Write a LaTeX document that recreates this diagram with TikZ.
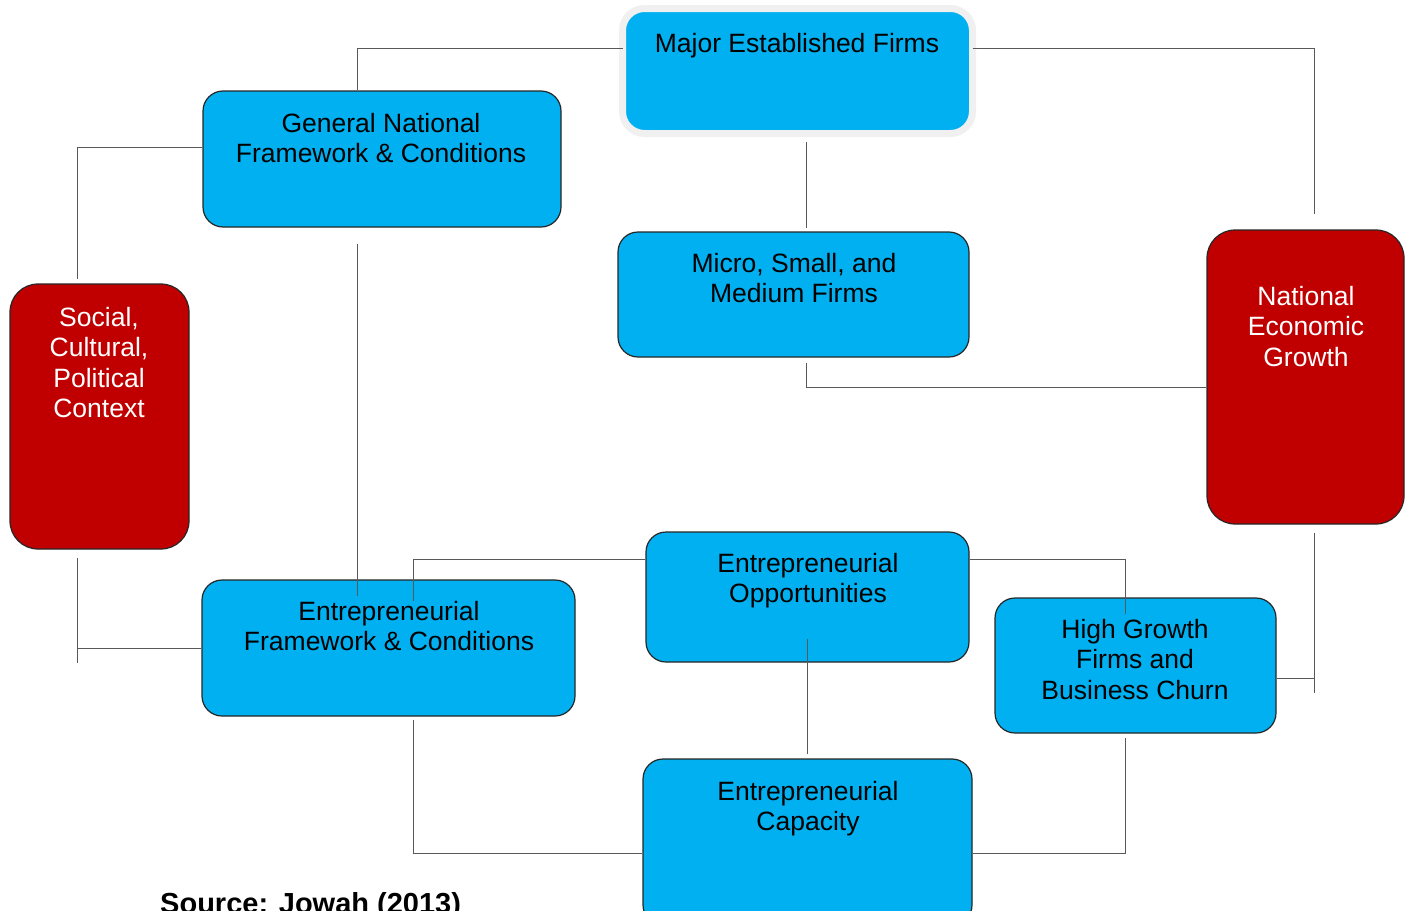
\documentclass[tikz,border=0pt]{standalone}
\usepackage{fontspec}
\setmainfont{Liberation Sans}
\definecolor{boxblue}{HTML}{00B0F0}
\definecolor{boxred}{HTML}{C00000}
\tikzset{
    bluebox/.style={rectangle, rounded corners=20, fill=boxblue, draw=black!85, line width=1.2},
    redbox/.style={rectangle, rounded corners=28, fill=boxred, draw=black!85, line width=1.2},
    boxtext/.style={anchor=north, align=center, inner sep=0, font=\fontsize{26.5}{30.5}\selectfont},
    link/.style={draw=black!65, line width=1}
}
\begin{document}
\begin{tikzpicture}[x=1pt, y=-1pt]
    \useasboundingbox (0,0) rectangle (1410,910);
    % boxes
    \node[bluebox, draw=black!6, line width=7, outer sep=0, rounded corners=22, minimum width=350, minimum height=125] (mef) at (797.5, 71) {};
    \node[bluebox, minimum width=358, minimum height=136] (gnf) at (382, 159) {};
    \node[bluebox, minimum width=351, minimum height=125] (msm) at (793.5, 294.5) {};
    \node[redbox, minimum width=179, minimum height=265] (scp) at (99.5, 416.5) {};
    \node[redbox, minimum width=197, minimum height=294] (neg) at (1305.5, 377) {};
    \node[bluebox, minimum width=373, minimum height=136] (efc) at (388.5, 648) {};
    \node[bluebox, minimum width=323, minimum height=130] (eop) at (807.5, 597) {};
    \node[bluebox, minimum width=281, minimum height=135] (hgf) at (1135.5, 665.5) {};
    \node[bluebox, minimum width=329, minimum height=166] (ecap) at (807.5, 842) {};
    \coordinate (scpEnd) at (77, 663);
    \coordinate (negEnd) at (1314, 693);
    % connectors
    \draw[link] ([yshift=23]mef.west) -| ([xshift=-25]gnf.north);
    \draw[link] ([yshift=23]mef.east) -| ([xshift=8.5, yshift=15]neg.north);
    \draw[link] ([yshift=12]gnf.west) -| ([xshift=-22.5, yshift=4]scp.north);
    \draw[link] ([xshift=8.5, yshift=-8]mef.south) -- ([xshift=12.5, yshift=3]msm.north);
    \draw[link] ([xshift=12.5, yshift=-5]msm.south) |- ([yshift=-10]neg.west);
    \draw[link] ([xshift=-25, yshift=-16]gnf.south) -- ([xshift=-31.5, yshift=-17]efc.north);
    \draw[link] ([xshift=-22.5, yshift=-8]scp.south) -- (scpEnd);
    \draw[link] (efc.west) -- (efc.west -| scpEnd);
    \draw[link] ([yshift=38]eop.west) -| ([xshift=24.5, yshift=-22]efc.north);
    \draw[link] ([yshift=38]eop.east) -| ([xshift=-10.5, yshift=-17]hgf.north);
    \draw[link] ([xshift=-0.5, yshift=24]eop.south) -- ([xshift=-0.5, yshift=4]ecap.north);
    \draw[link] ([xshift=8.5, yshift=-8]neg.south) -- (negEnd);
    \draw[link] ([yshift=-12.5]hgf.east) -- ([yshift=-12.5]hgf.east -| negEnd);
    \draw[link] ([xshift=24.5, yshift=-3]efc.south) |- ([yshift=-11]ecap.west);
    \draw[link] ([yshift=-11]ecap.east) -| ([xshift=-10.5, yshift=-4]hgf.south);
    % labels
    \node[boxtext] (mefT) at (797, 33) {Major Established Firms};
    \node[boxtext] (gnfT) at (381, 113) {General National\\Framework \& Conditions};
    \node[boxtext] (msmT) at (794, 253) {Micro, Small, and\\Medium Firms};
    \node[boxtext, text=white] (scpT) at (99, 307) {Social,\\Cultural,\\Political\\Context};
    \node[boxtext, text=white] (negT) at (1306, 286) {National\\Economic\\Growth};
    \node[boxtext] (efcT) at (389, 601) {Entrepreneurial\\Framework \& Conditions};
    \node[boxtext] (eopT) at (808, 553) {Entrepreneurial\\Opportunities};
    \node[boxtext] (hgfT) at (1135, 619) {High Growth\\Firms and\\Business Churn};
    \node[boxtext] (ecapT) at (808, 781) {Entrepreneurial\\Capacity};
    \node[anchor=base west, inner sep=0, font=\fontsize{29}{34}\selectfont\bfseries] (src) at (160, 913) {Source: Jowah (2013)};
\end{tikzpicture}
\end{document}
